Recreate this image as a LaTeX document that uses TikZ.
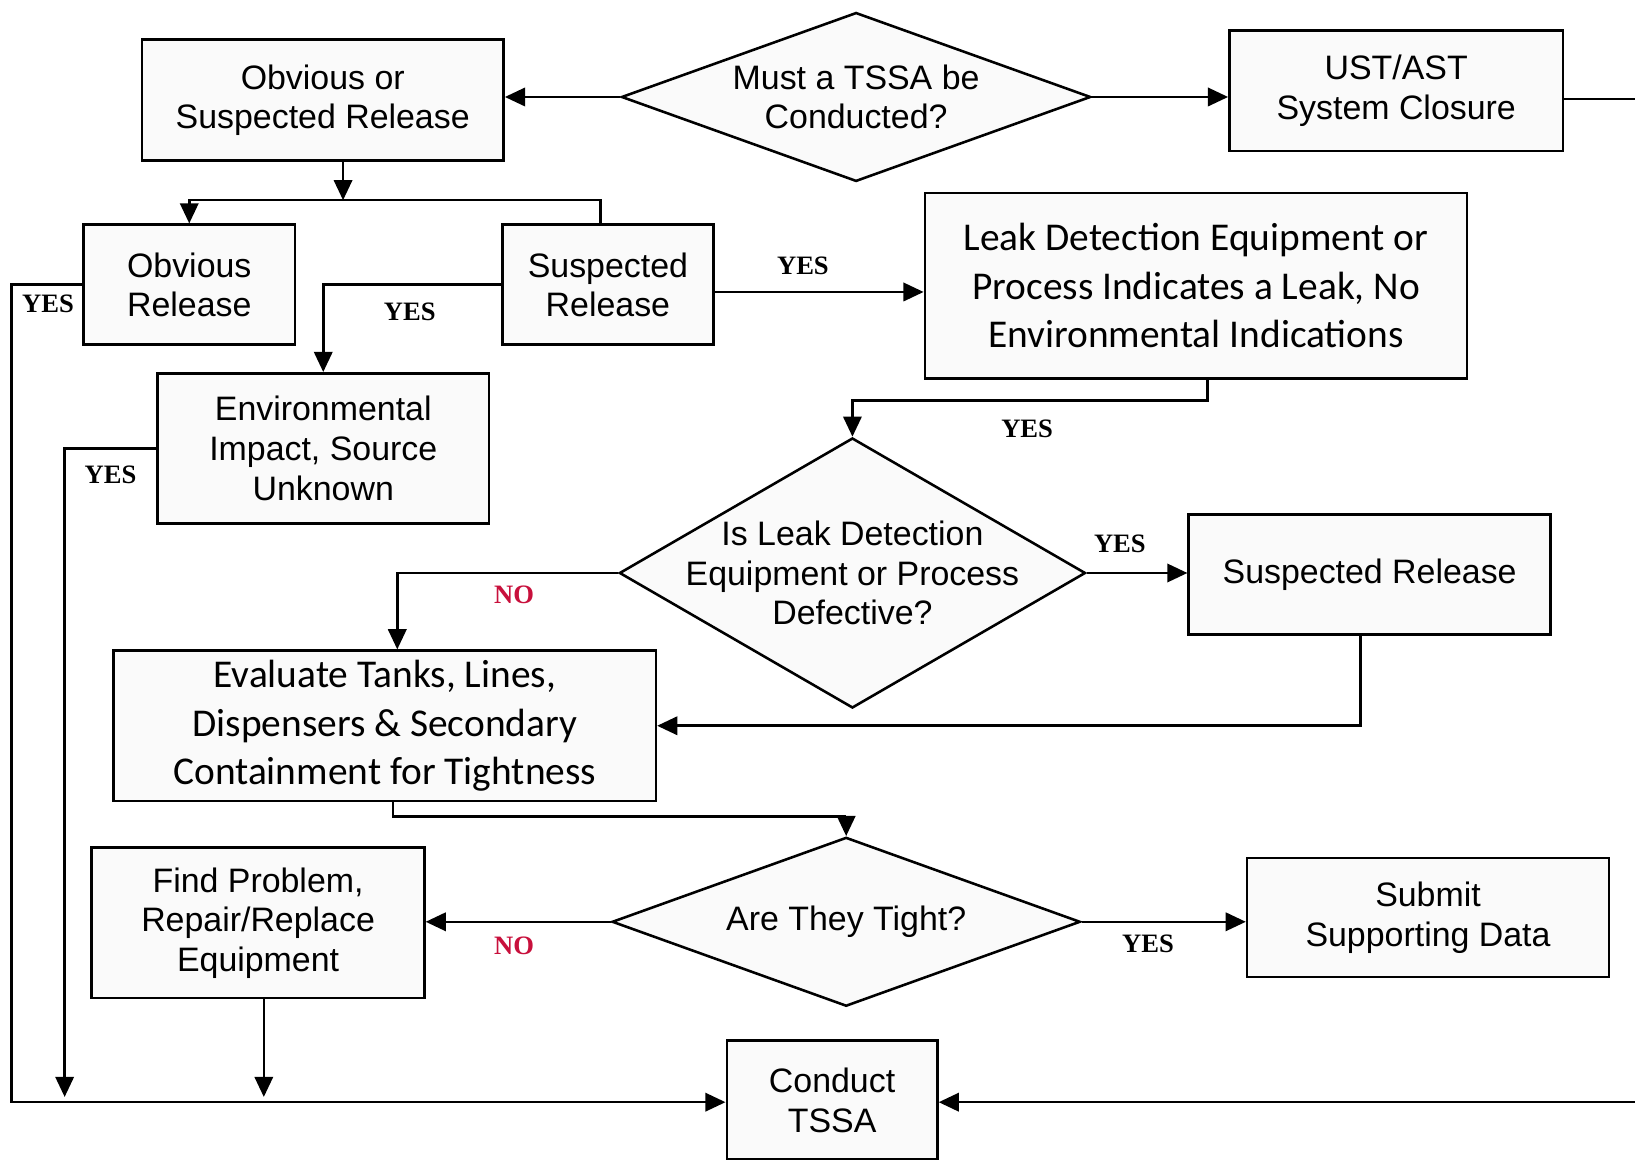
\documentclass[tikz,border=0pt]{standalone}
\usepackage{fontspec}
\setmainfont{Liberation Sans}
\newfontfamily\myriad{Carlito}
\newfontfamily\labelfont{Liberation Serif}
\usetikzlibrary{shapes.geometric,arrows.meta}
\definecolor{noRed}{RGB}{200,16,60}
\tikzset{
  box/.style={draw, line width=1.4pt, fill=black!2, align=center, inner sep=2pt,
    font=\fontsize{18.5}{21.6}\selectfont},
  widebox/.style={box, font=\myriad\fontsize{21.5}{26.5}\selectfont},
  decision/.style={diamond, draw, line width=1.4pt, fill=black!2, inner sep=0pt},
  dtext/.style={align=center, font=\fontsize{18.5}{21.6}\selectfont},
  yeslbl/.style={font=\labelfont\bfseries\fontsize{14.5}{16}\selectfont},
  nolbl/.style={yeslbl, text=noRed},
  flow/.style={line width=1.4pt, -{Triangle[length=11pt,width=10pt]}},
  line/.style={line width=1.4pt}
}
\begin{document}
\begin{tikzpicture}[x=0.2mm, y=-0.2mm]
  \useasboundingbox (0,0) rectangle (1568,1112);
  % top row
  \node [box, minimum width=69.4mm, minimum height=23.2mm] (osr) at (309.5,96)
    {Obvious or\\Suspected Release};
  \node [decision, minimum width=90mm, minimum height=32.4mm,
    label={[dtext]center:{Must a TSSA be\\Conducted?}}] (must) at (821,93) {};
  \node [box, minimum width=64mm, minimum height=23.2mm] (ust) at (1339,87)
    {UST/AST\\System Closure};
  % release types
  \node [box, minimum width=40.6mm, minimum height=23mm] (obv) at (181.5,273)
    {Obvious\\Release};
  \node [box, minimum width=40.4mm, minimum height=23mm] (susp) at (583,273)
    {Suspected\\Release};
  \node [widebox, minimum width=104mm, minimum height=35.6mm] (leak) at (1147,274)
    {Leak Detection Equipment or\\Process Indicates a Leak, No\\Environmental Indications};
  \node [box, minimum width=63.6mm, minimum height=28.8mm] (env) at (310,430)
    {Environmental\\Impact, Source\\Unknown};
  % checks
  \node [decision, minimum width=89.4mm, minimum height=51.8mm,
    label={[dtext]center:{Is Leak Detection\\Equipment or Process\\Defective?}}] (defect) at (817.5,549.5) {};
  \node [box, minimum width=69.4mm, minimum height=23mm] (susp2) at (1313.5,551)
    {Suspected Release};
  \node [widebox, minimum width=104mm, minimum height=28.8mm] (eval) at (369,696)
    {Evaluate Tanks, Lines,\\Dispensers \& Secondary\\Containment for Tightness};
  \node [decision, minimum width=89.8mm, minimum height=32.4mm,
    label={[dtext]center:{Are They Tight?}}] (tight) at (811.5,884) {};
  \node [box, minimum width=63.8mm, minimum height=28.8mm] (find) at (247.5,885)
    {Find Problem,\\Repair/Replace\\Equipment};
  \node [box, minimum width=69.4mm, minimum height=22.8mm] (submit) at (1369.5,880)
    {Submit\\Supporting Data};
  \node [box, minimum width=40.4mm, minimum height=22.8mm] (tssa) at (798,1055)
    {Conduct\\TSSA};
  % labels
  \node [yeslbl] (yes1) at (770,255) {YES};
  \node [yeslbl] (yes2) at (393,299) {YES};
  \node [yeslbl] (yes3) at (46,291) {YES};
  \node [yeslbl] (yes4) at (106,455) {YES};
  \node [yeslbl] (yes5) at (985,411) {YES};
  \node [yeslbl] (yes6) at (1074,522) {YES};
  \node [yeslbl] (yes7) at (1101,905) {YES};
  \node [nolbl] (no1) at (493,570) {NO};
  \node [nolbl] (no2) at (493,907) {NO};
  % helper points
  \coordinate (edgeT) at (1568,95);
  \coordinate (edgeB) at (1568,1057);
  \coordinate (split) at (329,192);
  \coordinate (railA) at (11,1057);
  \coordinate (railB) at (62,1052);
  \coordinate (railC) at (253,1052);
  % connectors
  \draw [flow] (must.west) -- (must.west -| osr.east);
  \draw [flow] (must.east) -- (must.east -| ust.west);
  \draw [line] (ust.east |- edgeT) -- (edgeT);
  \draw [flow] (edgeB) -- (edgeB -| tssa.east);
  \draw [flow] (split |- osr.south) -- (split);
  \draw [flow] ([xshift=-1.4mm]susp.north) |- (split -| obv.north) -- (obv.north);
  \draw [flow] ([yshift=-1.4mm]susp.east) -- ([yshift=-1.4mm]susp.east -| leak.west);
  \draw [flow] (susp.west) -| (env.north);
  \draw [flow] (obv.west) -| (railA) -- (railA -| tssa.west);
  \draw [flow] (env.west) -| (railB);
  \draw [flow] ([xshift=2.2mm]leak.south) -- ++(0,20) -| (defect.north);
  \draw [flow] (defect.east) -- (defect.east -| susp2.west);
  \draw [flow] ([xshift=-1.7mm]susp2.south) |- (eval.east);
  \draw [flow] (defect.west) -| ([xshift=2.4mm]eval.north);
  \draw [flow] ([xshift=1.6mm]eval.south) -- ++(0,14) -| (tight.north);
  \draw [flow] (tight.west) -- (tight.west -| find.east);
  \draw [flow] (tight.east) -- (tight.east -| submit.west);
  \draw [flow] (railC |- find.south) -- (railC);
\end{tikzpicture}
\end{document}
